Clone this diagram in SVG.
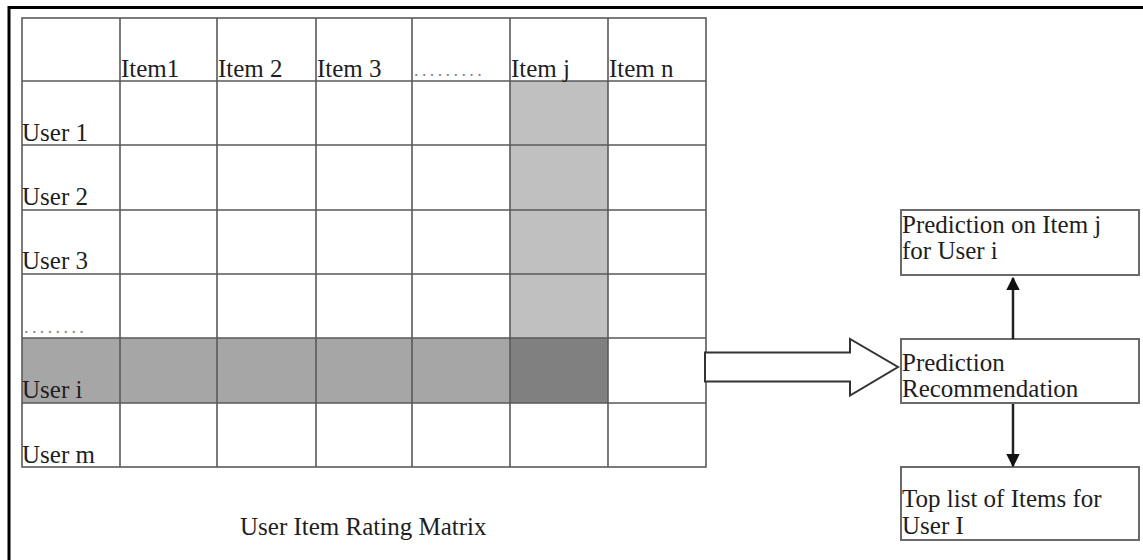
<svg xmlns="http://www.w3.org/2000/svg" width="1143" height="560" viewBox="0 0 1143 560">
  <style>
    text { font-family: "Liberation Serif", "Times New Roman", serif; font-size: 25px; fill: #1e1e1e; }
    .dots { fill: #8a8a8a; font-size: 18px; letter-spacing: 3.4px; }
    .grid { stroke: #5a5a5a; stroke-width: 1.6; fill: none; }
    .box { fill: #ffffff; stroke: #6a6a6a; stroke-width: 2; }
    .conn { stroke: #222222; stroke-width: 2.5; fill: none; }
  </style>
  <defs>
    <marker id="ah" viewBox="0 0 10 10" refX="9" refY="5" markerWidth="5.5" markerHeight="5.5" orient="auto" markerUnits="strokeWidth">
      <path d="M0,0 L10,5 L0,10 z" fill="#111111"/>
    </marker>
  </defs>
  <rect x="0" y="0" width="1143" height="560" fill="#ffffff"/>
  <rect x="9" y="7.5" width="1150" height="570" fill="none" stroke="#000000" stroke-width="3"/>

  <g id="matrix">
    <rect x="510" y="81" width="98" height="257" fill="#c0c0c0"/>
    <rect x="22" y="338" width="488" height="65" fill="#a6a6a6"/>
    <rect x="510" y="338" width="98" height="65" fill="#808080"/>
    <g class="grid">
      <rect x="22" y="18" width="684" height="449"/>
      <path d="M120,18V467 M217,18V467 M316,18V467 M412,18V467 M510,18V467 M608,18V467"/>
      <path d="M22,81H706 M22,145H706 M22,210H706 M22,274H706 M22,338H706 M22,403H706"/>
    </g>
    <text x="121" y="77">Item1</text>
    <text x="218" y="77">Item 2</text>
    <text x="317" y="77">Item 3</text>
    <text class="dots" x="414" y="76">.........</text>
    <text x="511" y="77">Item j</text>
    <text x="609" y="77">Item n</text>
    <text x="22" y="141">User 1</text>
    <text x="22" y="205">User 2</text>
    <text x="22" y="269">User 3</text>
    <text class="dots" x="24" y="333">........</text>
    <text x="22" y="398">User i</text>
    <text x="22" y="463">User m</text>
    <text x="240" y="535">User Item Rating Matrix</text>
  </g>

  <g id="prediction-item">
    <rect class="box" x="901" y="210" width="238" height="65"/>
    <text x="902" y="233">Prediction on Item j</text>
    <text x="902" y="259">for User i</text>
  </g>

  <g id="prediction-recommendation">
    <rect class="box" x="901" y="339" width="238" height="64"/>
    <text x="902" y="371">Prediction</text>
    <text x="902" y="397">Recommendation</text>
  </g>

  <g id="top-list">
    <rect class="box" x="901" y="467" width="238" height="73"/>
    <text x="902" y="507">Top list of Items for</text>
    <text x="902" y="534">User I</text>
  </g>

  <g id="connectors">
    <polygon points="705,352.5 850,352.5 850,339 898,367 850,395.5 850,381.5 705,381.5" fill="#ffffff" stroke="#333333" stroke-width="2"/>
    <line class="conn" x1="1013" y1="339" x2="1013" y2="278" marker-end="url(#ah)"/>
    <line class="conn" x1="1013" y1="404" x2="1013" y2="466" marker-end="url(#ah)"/>
  </g>
</svg>
